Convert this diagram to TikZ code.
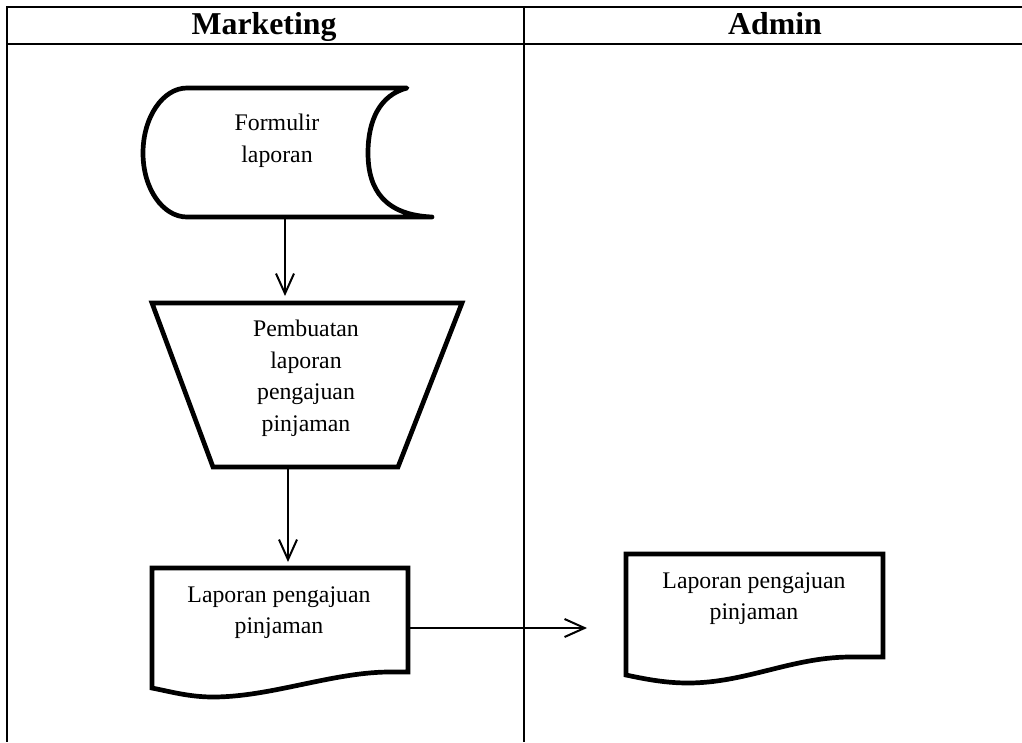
\documentclass[tikz,border=0pt]{standalone}
\usepackage{fontspec}
\setmainfont{Liberation Serif}
\usetikzlibrary{arrows.meta}
\begin{document}
\begin{tikzpicture}[x=1pt,y=-1pt,
  lane/.style={line width=2pt},
  shapeline/.style={line width=4.7pt},
  box/.style={draw=none, inner sep=0pt, outer sep=0pt},
  txt/.style={inner sep=0pt, align=center, font=\fontsize{23.8}{31.5}\selectfont},
  head/.style={inner sep=0pt, anchor=base, font=\fontsize{31.8}{36}\selectfont\bfseries},
  flow/.style={line width=2pt, -{Straight Barb[length=20pt,width=18pt]}}]
\useasboundingbox (0,0) rectangle (1022,742);
% table
\draw[lane] (1022,7) -- (7,7) -- (7,742);
\draw[lane] (7,44) -- (1022,44);
\draw[lane] (524,7) -- (524,742);
\node[head] (hmkt) at (264,34.3) {Marketing};
\node[head] (hadm) at (775,34.3) {Admin};
% helper boxes
\node[box, minimum width=284pt, minimum height=129pt] (form) at (285,152.5) {};
\node[box, minimum width=272pt, minimum height=164pt] (proc) at (288,385) {};
\node[box, minimum width=256pt, minimum height=120pt] (doc1) at (280,628) {};
\node[box, minimum width=257pt, minimum height=129pt] (doc2) at (754.5,618.5) {};
% stored data
\draw[shapeline, line join=round] (407,88) -- (187,88)
  .. controls (163,88) and (143,117) .. (143,153)
  .. controls (143,189) and (163,217) .. (187,217) -- (432,217)
  .. controls (385,215) and (368,190) .. (368,153)
  .. controls (368,120) and (380,95) .. cycle;
% manual operation
\draw[shapeline] (152,303) -- (462,303) -- (398,467) -- (213,467) -- cycle;
% documents
\draw[shapeline] (152,688) -- (152,568) -- (408,568) -- (408,672) -- (387,672)
  .. controls (330,673) and (270,697) .. (213,697)
  .. controls (190,697) and (172,692) .. cycle;
\draw[shapeline] (626,675) -- (626,554) -- (883,554) -- (883,657) -- (848,657)
  .. controls (790,658) and (745,683) .. (688,683)
  .. controls (665,683) and (645,679) .. cycle;
% texts
\node[txt] (formtxt) at (277,141) {Formulir\\laporan};
\node[txt] (proctxt) at (306,378.3) {Pembuatan\\laporan\\pengajuan\\pinjaman};
\node[txt] (doc1txt) at (279,612.5) {Laporan pengajuan\\pinjaman};
\node[txt] (doc2txt) at (754,598.6) {Laporan pengajuan\\pinjaman};
% connectors
\draw[flow, shorten >=7pt] (form.south) -- (form.south |- proc.north);
\draw[flow, shorten >=6pt] (proc.south) -- (proc.south |- doc1.north);
\draw[flow, shorten >=39pt] (doc1.east) -- (doc1.east -| doc2.west);
\end{tikzpicture}
\end{document}
